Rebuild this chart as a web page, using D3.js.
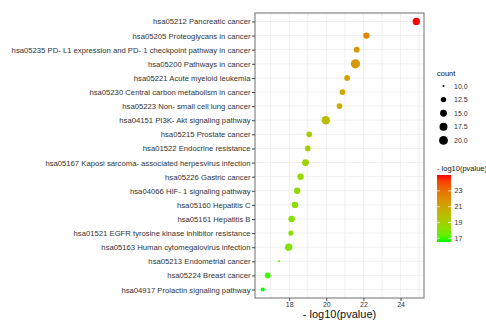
<!DOCTYPE html>
<html>
<head>
<meta charset="utf-8">
<script src="https://cdn.jsdelivr.net/npm/d3@7"></script>
<style>
  body { margin: 0; background: #fff; }
  svg { display: block; font-family: "Liberation Sans", Arial, sans-serif; }
</style>
</head>
<body>
<svg id="chart"></svg>
<script>
// pathway names (top to bottom)
const pathways = [
  "hsa05212 Pancreatic cancer",
  "hsa05205 Proteoglycans in cancer",
  "hsa05235 PD- L1 expression and PD- 1 checkpoint pathway in cancer",
  "hsa05200 Pathways in cancer",
  "hsa05221 Acute myeloid leukemia",
  "hsa05230 Central carbon metabolism in cancer",
  "hsa05223 Non- small cell lung cancer",
  "hsa04151 PI3K- Akt signaling pathway",
  "hsa05215 Prostate cancer",
  "hsa01522 Endocrine resistance",
  "hsa05167 Kaposi sarcoma- associated herpesvirus infection",
  "hsa05226 Gastric cancer",
  "hsa04066 HIF- 1 signaling pathway",
  "hsa05160 Hepatitis C",
  "hsa05161 Hepatitis B",
  "hsa01521 EGFR tyrosine kinase inhibitor resistance",
  "hsa05163 Human cytomegalovirus infection",
  "hsa05213 Endometrial cancer",
  "hsa05224 Breast cancer",
  "hsa04917 Prolactin signaling pathway"
];
// -log10(pvalue)
const logp = [24.85, 22.16, 21.64, 21.57, 21.12, 20.87, 20.71, 19.97, 19.08, 19.0,
              18.88, 18.61, 18.43, 18.31, 18.13, 18.09, 17.97, 17.45, 16.84, 16.57];
// gene count
const counts = [16, 14, 13, 21, 13, 13, 13, 19, 13, 13,
                15, 14, 14, 14, 14, 12, 16, 10, 13, 11];

const sizeBreaks = [10, 12.5, 15, 17.5, 20];
const colorBreaks = [17, 19, 21, 23];
const xTicks = [18, 20, 22, 24];
const xMinor = [17, 19, 21, 23, 25];

const w = 486, h = 320;
const panel = {left: 255, right: 424, top: 13, bottom: 298};

const dataset = pathways.map(function (p, i) {
  return {name: p, x: logp[i], count: counts[i]};
});

const svg = d3.select("#chart").attr("width", w).attr("height", h);

// scales
const ext = d3.extent(logp);
const pad = (ext[1] - ext[0]) * 0.05;
const xScale = d3.scaleLinear()
  .domain([ext[0] - pad, ext[1] + pad])
  .range([panel.left, panel.right]);
const yScale = d3.scalePoint()
  .domain(pathways)
  .range([panel.top, panel.bottom])
  .padding(0.6);

// ggplot-ish area size scale
const cMin = 10, cMax = 21;
const rNorm = d3.scaleLinear().domain([cMin, cMax]).range([0, 1]).clamp(true);
const rScale = d3.scaleLinear().domain([0, 1]).range([1, 4.6]);
function radius(c) { return rScale(Math.sqrt(rNorm(c))); }

const colorScale = d3.scaleLinear()
  .domain(ext)
  .range(["#00ff00", "#ff0000"])
  .interpolate(d3.interpolateLab);

// panel
svg.append("rect")
  .attr("x", panel.left).attr("y", panel.top)
  .attr("width", panel.right - panel.left)
  .attr("height", panel.bottom - panel.top)
  .attr("fill", "#fff");

// grid
const grid = svg.append("g");
grid.selectAll("line.vx")
  .data(xTicks.concat(xMinor).filter(function (v) { return xScale(v) < panel.right; }))
  .enter().append("line")
  .attr("x1", function (d) { return xScale(d); })
  .attr("x2", function (d) { return xScale(d); })
  .attr("y1", panel.top).attr("y2", panel.bottom)
  .attr("stroke", "#ebebeb").attr("stroke-width", 0.8);
grid.selectAll("line.hy")
  .data(pathways)
  .enter().append("line")
  .attr("x1", panel.left).attr("x2", panel.right)
  .attr("y1", function (d) { return yScale(d); })
  .attr("y2", function (d) { return yScale(d); })
  .attr("stroke", "#ebebeb").attr("stroke-width", 0.8);

// points
svg.append("g").selectAll("circle")
  .data(dataset)
  .enter().append("circle")
  .attr("cx", function (d) { return xScale(d.x); })
  .attr("cy", function (d) { return yScale(d.name); })
  .attr("r", function (d) { return radius(d.count); })
  .attr("fill", function (d) { return colorScale(d.x); });

// border
svg.append("rect")
  .attr("x", panel.left).attr("y", panel.top)
  .attr("width", panel.right - panel.left)
  .attr("height", panel.bottom - panel.top)
  .attr("fill", "none").attr("stroke", "#6e6e6e").attr("stroke-width", 1);

// axes
const xAxis = svg.append("g")
  .attr("transform", "translate(0," + panel.bottom + ")")
  .call(d3.axisBottom(xScale).tickValues(xTicks).tickSize(3).tickPadding(1).tickFormat(d3.format("d")));
const yAxis = svg.append("g")
  .attr("transform", "translate(" + panel.left + ",0)")
  .call(d3.axisLeft(yScale).tickSize(3).tickPadding(1.5));
[xAxis, yAxis].forEach(function (a) {
  a.select(".domain").remove();
  a.selectAll(".tick line").attr("stroke", "#444");
  a.selectAll(".tick text").attr("fill", "#333")
    .attr("font-family", "Liberation Sans, Arial, sans-serif");
});
yAxis.selectAll(".tick text").attr("font-size", "7.7px");
xAxis.selectAll(".tick text").attr("font-size", "7px");

svg.append("text")
  .attr("x", (panel.left + panel.right) / 2)
  .attr("y", 317.5)
  .attr("text-anchor", "middle")
  .attr("font-size", "11px")
  .attr("fill", "#111")
  .text("- log10(pvalue)");

// size legend
const sl = svg.append("g");
sl.append("text").attr("x", 437).attr("y", 75.5)
  .attr("font-size", "7.5px").attr("fill", "#111").text("count");
const sItems = sl.selectAll("g.item").data(sizeBreaks).enter().append("g")
  .attr("transform", function (d, i) { return "translate(0," + (86 + i * 13.6) + ")"; });
sItems.append("circle").attr("cx", 443.5).attr("cy", 0)
  .attr("r", function (d) { return radius(d); }).attr("fill", "#000");
sItems.append("text").attr("x", 454).attr("y", 2.6)
  .attr("font-size", "7px").attr("fill", "#333")
  .text(function (d) { return d3.format(".1f")(d); });

// colour legend
const cl = svg.append("g");
cl.append("text").attr("x", 437).attr("y", 171)
  .attr("font-size", "7.5px").attr("fill", "#111").text("- log10(pvalue)");
const barTop = 175, barBottom = 242, barX = 437, barW = 14;
const barScale = d3.scaleLinear()
  .domain([ext[0] - 0.04, ext[1] + 0.15])
  .range([barBottom, barTop]);
const defs = svg.append("defs");
const grad = defs.append("linearGradient").attr("id", "cgrad")
  .attr("x1", 0).attr("y1", 1).attr("x2", 0).attr("y2", 0);
d3.range(0, 1.0001, 0.1).forEach(function (t) {
  const v = barScale.domain()[0] + t * (barScale.domain()[1] - barScale.domain()[0]);
  grad.append("stop").attr("offset", t).attr("stop-color", colorScale(Math.max(ext[0], Math.min(ext[1], v))));
});
cl.append("rect").attr("x", barX).attr("y", barTop)
  .attr("width", barW).attr("height", barBottom - barTop)
  .attr("fill", "url(#cgrad)");
const cTicks = cl.selectAll("g.ct").data(colorBreaks).enter().append("g")
  .attr("transform", function (d) { return "translate(0," + barScale(d) + ")"; });
cTicks.append("line").attr("x1", barX).attr("x2", barX + 2.8)
  .attr("stroke", "#fff").attr("stroke-width", 0.8);
cTicks.append("line").attr("x1", barX + barW - 2.8).attr("x2", barX + barW)
  .attr("stroke", "#fff").attr("stroke-width", 0.8);
cTicks.append("text").attr("x", 454.5).attr("y", 2.6)
  .attr("font-size", "7px").attr("fill", "#333")
  .text(function (d) { return d; });
</script>
</body>
</html>
